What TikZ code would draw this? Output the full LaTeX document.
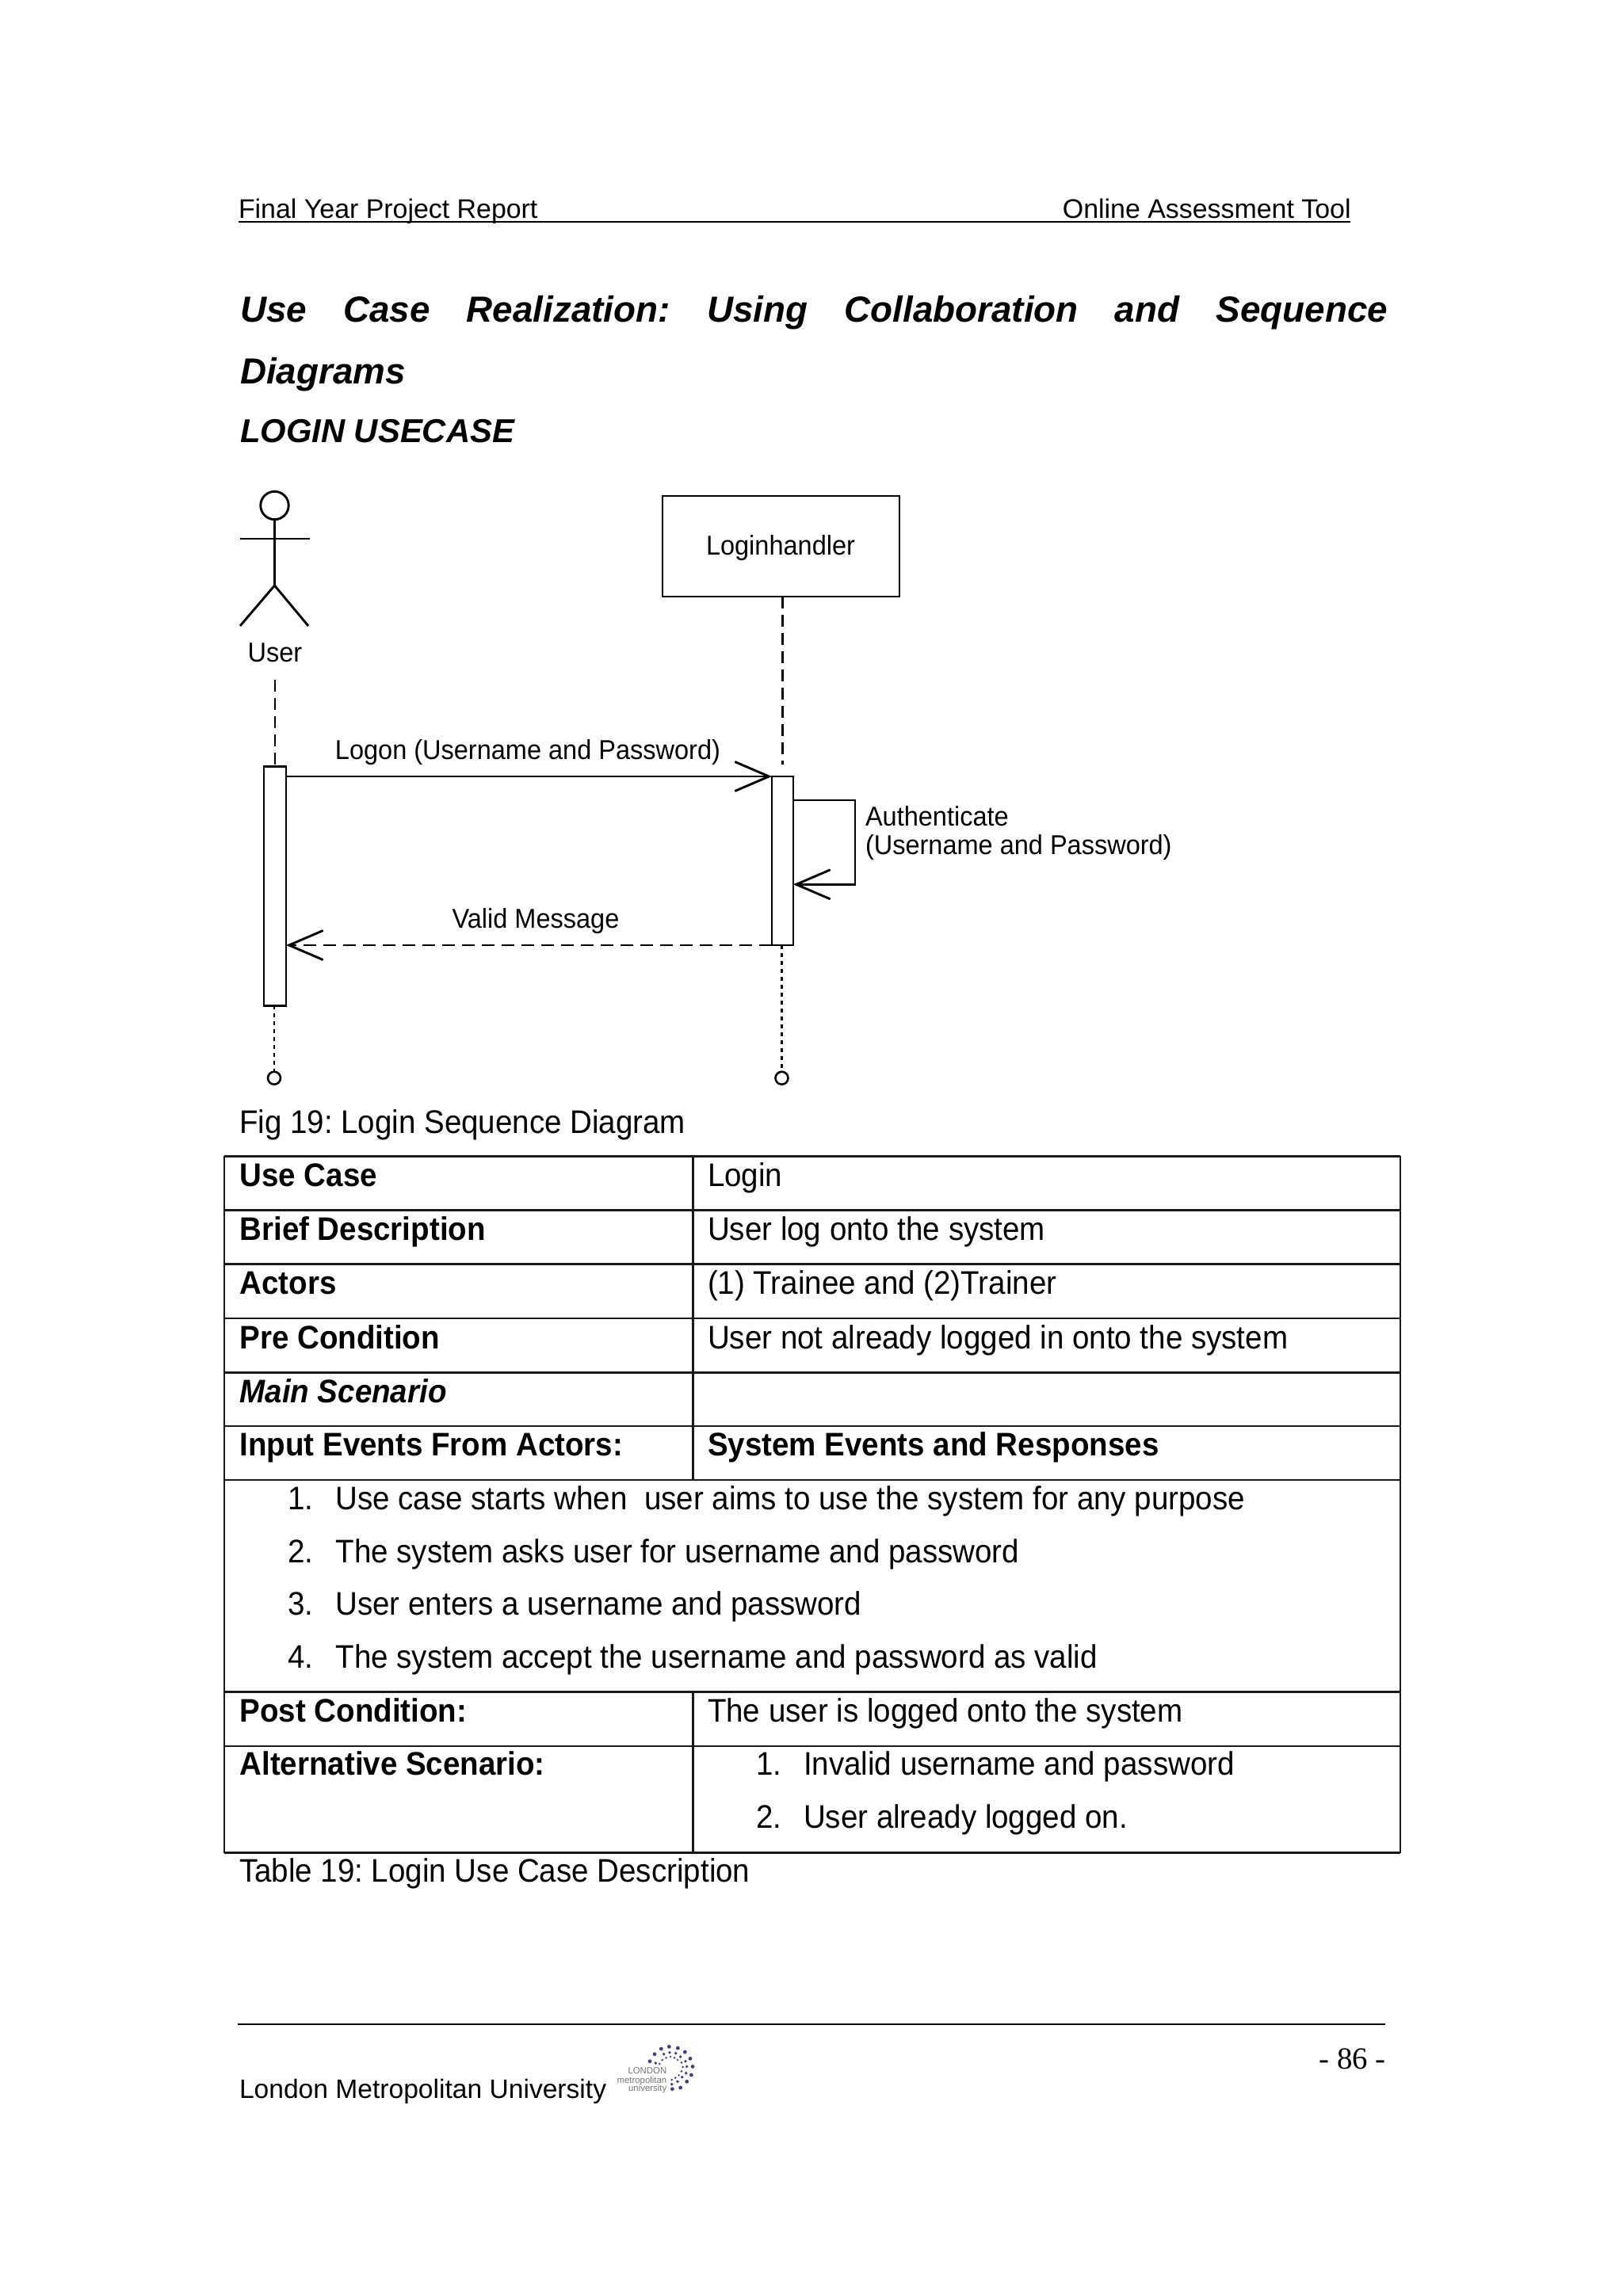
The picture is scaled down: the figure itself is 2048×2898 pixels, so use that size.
\documentclass[tikz,border=0pt]{standalone}
\usepackage{fontspec}
\setmainfont{Liberation Sans}
\newfontfamily\serifnum{Liberation Serif}
\newfontfamily\narrowsans[FakeStretch=0.945]{Liberation Sans}
\newfontfamily\bodysans[FakeStretch=0.935]{Liberation Sans}
\usetikzlibrary{arrows.meta,calc}
\newcommand{\bodyfs}{\bodysans\frenchspacing\fontsize{20.6}{24}\selectfont}
\newcommand{\headfs}{\fontsize{16.95}{20}\selectfont}
\newcommand{\diagfs}{\narrowsans\fontsize{17.2}{20}\selectfont}
\newcommand{\titlefs}{\fontsize{22.9}{28}\selectfont\bfseries\itshape}
\newcommand{\subtitlefs}{\fontsize{20.9}{28}\selectfont\bfseries\itshape}
\definecolor{logodot}{HTML}{4B3A80}
\tikzset{
  x=0.5pt,y=-0.5pt,
  ln/.style={line width=1.45pt,black},
  tbl/.style={line width=1.25pt,black!90},
  lifedash/.style={ln,dash pattern=on 7.5pt off 4pt},
  lifedot/.style={line width=1.3pt,black,dash pattern=on 2.5pt off 2.5pt},
  msgdash/.style={ln,dash pattern=on 8pt off 4.5pt},
  msgtip/.style={-{Straight Barb[length=21.5pt,width=18.5pt,line width=1.45pt]}},
  bar/.style={draw,ln,fill=white,inner sep=0,outer sep=0,anchor=north west},
  endc/.style={circle,draw,line width=1.3pt,inner sep=0,outer sep=0,minimum size=8pt},
  tx/.style={anchor=base west,inner sep=0,outer sep=0},
  body/.style={tx,font=\bodyfs},
  bodyb/.style={tx,font=\bodyfs\bfseries},
  dg/.style={inner sep=0,outer sep=0,font=\diagfs},
  lgt/.style={anchor=base east,inner sep=0,text=black!55,font=\fontsize{5.7}{6}\selectfont},
  logodotst/.style={fill=logodot,circle,inner sep=0,minimum size=#1}
}
\begin{document}
\begin{tikzpicture}
\useasboundingbox (0,0) rectangle (2048,2898);
% header
\node[tx,font=\headfs] (hl) at (301,275) {Final Year Project Report};
\node[anchor=base east,inner sep=0,font=\headfs] (hr) at (1705,275) {Online Assessment Tool};
\coordinate (hra) at (301,280); \coordinate (hrb) at (1704,280);
\draw[line width=1pt] (hra) -- (hrb);
% titles
\node[tx,font=\titlefs] (t1) at (303,406) {\frenchspacing\makebox[724pt][s]{Use Case Realization: Using Collaboration and Sequence}};
\node[tx,font=\titlefs] (t2) at (303,484) {Diagrams};
\node[tx,font=\subtitlefs] (t3) at (303,558) {LOGIN USECASE};
% actor
\node[circle,draw,ln,inner sep=0,outer sep=0,minimum size=17.7pt] (head) at (346.5,638) {};
\coordinate (armL) at (303,680); \coordinate (armR) at (391,680);
\coordinate (hip) at (346.5,739);
\coordinate (legL) at (303,790); \coordinate (legR) at (389,790);
\draw[ln] (head.south) -- (hip);
\draw[ln] (armL) -- (armR);
\draw[ln] (legL) -- (hip) -- (legR);
\node[dg] (user) at (347,823.5) {User};
% lifeline head
\node[draw,ln,inner sep=0,outer sep=0,minimum width=149.5pt,minimum height=63.5pt,anchor=north west,font=\diagfs] (lh) at (836,626) {};
\node[dg] (lhlabel) at (985,692) {Loginhandler};
% lifelines
\coordinate (uTop) at (347,858); \coordinate (uDash) at (347,967);
\coordinate (lTop) at (987.6,753); \coordinate (lDash) at (987.6,965);
\draw[lifedash] (uTop) -- (uDash);
\draw[lifedash] (lTop) -- (lDash);
% activation bars
\node[bar,minimum width=14pt,minimum height=151pt] (ubar) at (333,967.3) {};
\node[bar,minimum width=13.5pt,minimum height=106.5pt] (lbar) at (974,980) {};
% ends
\node[endc] (uend) at (346,1360.7) {};
\node[endc] (lend) at (986.5,1360.7) {};
\draw[lifedot] (uend.north |- ubar.south) -- (uend.north);
\draw[lifedot] (lend.north |- lbar.south) -- (lend.north);
% messages
\coordinate (yLogon) at (0,980);
\coordinate (yValid) at (0,1193);
\coordinate (selfA) at (1079,1010);
\coordinate (selfB) at (1079,1116.3);
\draw[ln,msgtip] (ubar.east |- yLogon) -- (lbar.west |- yLogon);
\draw[ln,msgtip] (lbar.east |- selfA) -- (selfA) -- (selfB) -- (lbar.east |- selfB);
\draw[msgdash,msgtip] (lbar.west |- yValid) -- (ubar.east |- yValid);
\node[dg] (logon) at (666,950) {Logon (Username and Password)};
\node[dg] (valid) at (676,1163) {Valid Message};
\node[dg,anchor=west] (auth1) at (1092,1030) {Authenticate};
\node[dg,anchor=west] (auth2) at (1092,1070) {(Username and Password)};
% caption
\node[body] (fig) at (302,1430) {Fig 19: Login Sequence Diagram};
% table lines
\foreach \yy in {1459.3,1527.7,1595.7,1664,1732.3,1800,1868,2135.7,2204,2338.3}
  \draw[tbl] (282.8,\yy) -- (1767,\yy);
\draw[tbl] (282.8,1458.7) -- (282.8,2338.9);
\draw[tbl] (1767,1458.7) -- (1767,2338.9);
\draw[tbl] (874.6,1459.3) -- (874.6,1868);
\draw[tbl] (874.6,2135.7) -- (874.6,2338.3);
% table text
\node[bodyb] (c1) at (302.5,1497) {Use Case};
\node[body] (d1) at (893,1497) {Login};
\node[bodyb] (c2) at (302.5,1565) {Brief Description};
\node[body] (d2) at (893,1565) {User log onto the system};
\node[bodyb] (c3) at (302.5,1633) {Actors};
\node[body] (d3) at (893,1633) {(1) Trainee and (2)Trainer};
\node[bodyb] (c4) at (302.5,1702) {Pre Condition};
\node[body] (d4) at (893,1702) {User not already logged in onto the system};
\node[tx,font=\bodyfs\bfseries\itshape] (c5) at (302.5,1770) {Main Scenario};
\node[bodyb] (c6) at (302.5,1837) {Input Events From Actors:};
\node[bodyb] (d6) at (893,1837) {System Events and Responses};
\node[body] (n1) at (363,1905) {1.};
\node[body] (l1) at (423.5,1905) {Use case starts when\ \ user aims to use the system for any purpose};
\node[body] (n2) at (363,1972.5) {2.};
\node[body] (l2) at (423.5,1972.5) {The system asks user for username and password};
\node[body] (n3) at (363,2038.3) {3.};
\node[body] (l3) at (423.5,2038.3) {User enters a username and password};
\node[body] (n4) at (363,2105) {4.};
\node[body] (l4) at (423.5,2105) {The system accept the username and password as valid};
\node[bodyb] (c7) at (302.5,2173) {Post Condition:};
\node[body] (d7) at (893,2173) {The user is logged onto the system};
\node[bodyb] (c8) at (302.5,2240) {Alternative Scenario:};
\node[body] (n5) at (954,2240) {1.};
\node[body] (l5) at (1014,2240) {Invalid username and password};
\node[body] (n6) at (954,2307.5) {2.};
\node[body] (l6) at (1014,2307.5) {User already logged on.};
\node[body] (tab) at (302,2375) {Table 19: Login Use Case Description};
% footer
\coordinate (fa) at (300,2555); \coordinate (fb) at (1748,2555);
\draw[line width=1.1pt] (fa) -- (fb);
\node[anchor=base east,inner sep=0,font=\serifnum\fontsize{19.4}{24}\selectfont] (pg) at (1749,2611) {- 86 -};
\node[tx,font=\fontsize{16.8}{20}\selectfont] (lmu) at (302,2648) {London Metropolitan University};
% logo
\node[lgt] (lg1) at (841.7,2617.3) {LONDON};
\node[lgt] (lg2) at (841.7,2629) {metropolitan};
\node[lgt] (lg3) at (841.7,2639.3) {university};
\foreach \px/\py in {150/95,168/68,193/48,223/40,256/45,283/60,303/85,312/115,307/147,290/172,266/195,235/200}
  \node[logodotst=2.4pt] at (770+\px/3,2570+\py/3) {};
\foreach \px/\py in {172/102,203/68,225/62,248/65,266/78,285/95,290/115,287/140,272/155,255/172,233/182}
  \node[logodotst=1.9pt] at (770+\px/3,2570+\py/3) {};
\foreach \px/\py in {187/105,197/90,212/82,228/78,243/82,255/90,270/100,275/117,270/133,260/148,247/158,233/165}
  \node[logodotst=1.4pt] at (770+\px/3,2570+\py/3) {};
\end{tikzpicture}
\end{document}
